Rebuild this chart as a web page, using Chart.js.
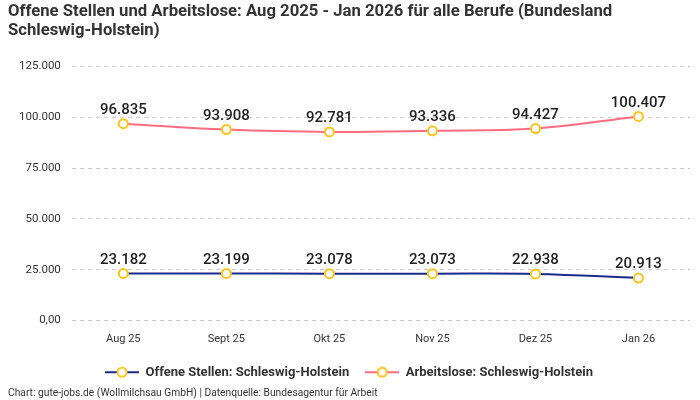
<!DOCTYPE html>
<html>
<head>
<meta charset="utf-8">
<script src="https://cdn.jsdelivr.net/npm/chart.js@4"></script>
<style>
  body { margin: 0; background: #fff; }
  #wrap { width: 700px; height: 400px; }
</style>
</head>
<body>
<div id="wrap"><canvas id="myChart"></canvas></div>
<script>
const months = ['Aug 25', 'Sept 25', 'Okt 25', 'Nov 25', 'Dez 25', 'Jan 26'];
const offeneStellen = [23182, 23199, 23078, 23073, 22938, 20913];
const arbeitslose = [96835, 93908, 92781, 93336, 94427, 100407];
const yTickLabels = ['0,00', '25.000', '50.000', '75.000', '100.000', '125.000'];

const ctx = document.getElementById('myChart');
const fontFamily = 'Roboto, "Noto Sans", sans-serif';

// little line + circle icon for the legend
function legendIcon(color) {
    const c = document.createElement('canvas');
    c.width = 34;
    c.height = 12;
    const g = c.getContext('2d');
    g.strokeStyle = color;
    g.lineWidth = 2;
    g.beginPath();
    g.moveTo(0, 6);
    g.lineTo(34, 6);
    g.stroke();
    g.beginPath();
    g.arc(17, 6, 4.5, 0, Math.PI * 2);
    g.fillStyle = '#fff';
    g.fill();
    g.strokeStyle = '#fcc419';
    g.stroke();
    return c;
}

const valueLabels = {
    id: 'valueLabels',
    afterDatasetsDraw(chart) {
        const c = chart.ctx;
        c.save();
        c.font = '500 15px ' + fontFamily;
        c.fillStyle = '#1f1f1f';
        c.textAlign = 'center';
        c.textBaseline = 'bottom';
        chart.data.datasets.forEach((ds, i) => {
            chart.getDatasetMeta(i).data.forEach((pt, j) => {
                c.fillText(ds.data[j].toLocaleString('de-DE'), pt.x, pt.y - 6);
            });
        });
        c.restore();
    }
};

new Chart(ctx, {
  type: 'line',
  data: {
    labels: months,
    datasets: [{
      label: 'Offene Stellen: Schleswig-Holstein',
      data: offeneStellen,
      borderColor: '#1b2a8a',
      borderWidth: 2,
      backgroundColor: '#fff',
      pointBorderColor: '#fcc419',
      pointBackgroundColor: '#fff',
      pointBorderWidth: 2,
      pointRadius: 4.5,
      tension: 0.4
    }, {
      label: 'Arbeitslose: Schleswig-Holstein',
      data: arbeitslose,
      borderColor: '#ff6b81',
      borderWidth: 2,
      backgroundColor: '#fff',
      pointBorderColor: '#fcc419',
      pointBackgroundColor: '#fff',
      pointBorderWidth: 2,
      pointRadius: 4.5,
      tension: 0.4
    }]
  },
  plugins: [valueLabels],
  options: {
    responsive: true,
    maintainAspectRatio: false,
    animation: false,
    layout: {
      padding: { left: 8, right: 10, bottom: 0 }
    },
    plugins: {
      title: {
        display: true,
        text: ['Offene Stellen und Arbeitslose: Aug 2025 - Jan 2026 für alle Berufe (Bundesland', 'Schleswig-Holstein)'],
        align: 'start',
        color: '#333',
        font: { family: fontFamily, size: 16.7, weight: 'bold', lineHeight: 1.15 },
        padding: { top: 2, bottom: 26 }
      },
      legend: {
        position: 'bottom',
        labels: {
          usePointStyle: true,
          pointStyleWidth: 34,
          color: '#333',
          font: { family: fontFamily, size: 13, weight: 'bold' },
          padding: 16,
          generateLabels(chart) {
            return chart.data.datasets.map((ds, i) => ({
              text: ds.label,
              pointStyle: legendIcon(ds.borderColor),
              fontColor: '#333',
              datasetIndex: i,
              hidden: false,
              lineWidth: 0
            }));
          }
        }
      },
      subtitle: {
        display: true,
        position: 'bottom',
        align: 'start',
        text: 'Chart: gute-jobs.de (Wollmilchsau GmbH) | Datenquelle: Bundesagentur für Arbeit',
        color: '#333',
        font: { family: fontFamily, size: 10.25, lineHeight: 1.0 },
        padding: { top: 0, bottom: 1 }
      },
      tooltip: { enabled: false }
    },
    scales: {
      x: {
        offset: true,
        border: { display: false },
        grid: { display: false },
        ticks: {
          color: '#333',
          font: { family: fontFamily, size: 11 },
          padding: 4
        }
      },
      y: {
        min: 0,
        max: 125000,
        grid: {
          color: '#cccccc',
          lineWidth: 1,
          drawTicks: false,
          tickLength: 0
        },
        border: { display: false, dash: [4, 4] },
        ticks: {
          stepSize: 25000,
          color: '#333',
          font: { family: fontFamily, size: 11.5 },
          padding: 11,
          callback: (v, i) => yTickLabels[i]
        }
      }
    }
  }
});
</script>
</body>
</html>
